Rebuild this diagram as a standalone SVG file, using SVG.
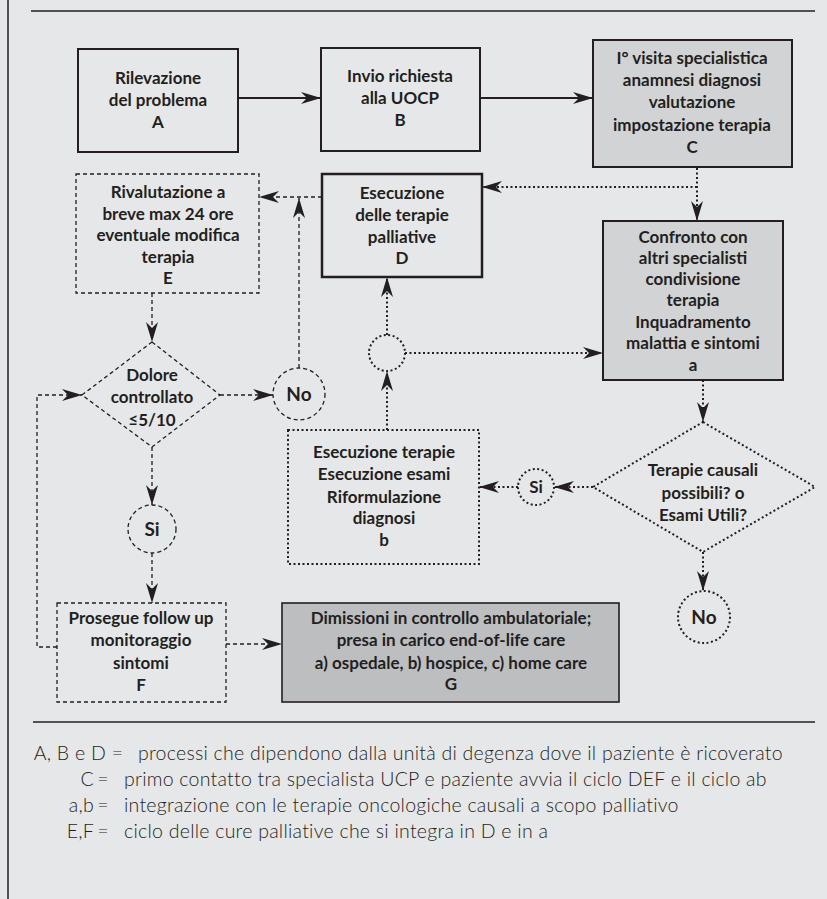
<svg xmlns="http://www.w3.org/2000/svg" width="827" height="899" viewBox="0 0 827 899">
<style>
.bg{fill:#e6e7e8}
.box{fill:none;stroke:#231f20;stroke-width:2}
.g1{fill:#d1d3d4}
.g2{fill:#bcbec0}
.dash{fill:none;stroke:#231f20;stroke-width:1.3;stroke-dasharray:4 3}
.dot{fill:none;stroke:#231f20;stroke-width:2;stroke-dasharray:2 2.5}
.solid{fill:none;stroke:#231f20;stroke-width:2}
.t{font-family:Lato,"Liberation Sans",sans-serif;font-weight:bold;font-size:17px;fill:#231f20;text-anchor:middle}
.lg{font-family:Lato,"Liberation Sans",sans-serif;font-weight:300;font-size:19.5px;letter-spacing:0.25px;fill:#231f20}
.rule{stroke:#231f20;stroke-width:1.5}
</style>
<defs>
<marker id="ah" markerUnits="userSpaceOnUse" markerWidth="21" markerHeight="13" refX="20" refY="6" orient="auto">
<path d="M0,0 L20,6 L0,12 L6,6 z" fill="#231f20"/>
</marker>
</defs>
<rect class="bg" x="0" y="0" width="827" height="899"/>
<line class="rule" x1="8" y1="0" x2="8" y2="899"/>
<line class="rule" x1="31" y1="11" x2="815" y2="11"/>
<line class="rule" x1="33" y1="722" x2="815" y2="722"/>

<g id="connectors">
<line class="solid" x1="238" y1="98" x2="321" y2="98" marker-end="url(#ah)"/>
<line class="solid" x1="480" y1="98" x2="593" y2="98" marker-end="url(#ah)"/>
<line class="dot" x1="697" y1="168" x2="697" y2="221" marker-end="url(#ah)"/>
<line class="dot" x1="697" y1="187" x2="482" y2="187" marker-end="url(#ah)"/>
<line class="dash" x1="322" y1="197" x2="259" y2="197" marker-end="url(#ah)"/>
<line class="dash" x1="299" y1="368" x2="299" y2="198" marker-end="url(#ah)"/>
<line class="dash" x1="152" y1="293" x2="152" y2="342" marker-end="url(#ah)"/>
<line class="dash" x1="220" y1="395" x2="273" y2="395" marker-end="url(#ah)"/>
<line class="dash" x1="152" y1="447" x2="152" y2="505" marker-end="url(#ah)"/>
<line class="dash" x1="152" y1="553" x2="152" y2="603" marker-end="url(#ah)"/>
<path class="dash" d="M57,647 L37,647 L37,395 L82,395" marker-end="url(#ah)"/>
<line class="dash" x1="226" y1="644" x2="282" y2="644" marker-end="url(#ah)"/>
<line class="dot" x1="387" y1="335" x2="387" y2="277" marker-end="url(#ah)"/>
<line class="dot" x1="405" y1="353" x2="603" y2="353" marker-end="url(#ah)"/>
<line class="dot" x1="387" y1="430" x2="387" y2="371" marker-end="url(#ah)"/>
<line class="dot" x1="703" y1="380" x2="703" y2="422" marker-end="url(#ah)"/>
<line class="dot" x1="593" y1="487" x2="554" y2="487" marker-end="url(#ah)"/>
<line class="dot" x1="518" y1="487" x2="479" y2="487" marker-end="url(#ah)"/>
<line class="dot" x1="703" y1="552" x2="703" y2="591" marker-end="url(#ah)"/>
</g>

<g id="A">
<rect class="box" x="78" y="49" width="160" height="103"/>
<text class="t" x="158" y="84">Rilevazione</text>
<text class="t" x="158" y="106">del problema</text>
<text class="t" x="158" y="128">A</text>
</g>
<g id="B">
<rect class="box" x="321" y="48" width="159" height="103"/>
<text class="t" x="400" y="82">Invio richiesta</text>
<text class="t" x="400" y="104">alla UOCP</text>
<text class="t" x="400" y="126">B</text>
</g>
<g id="C">
<rect class="box g1" x="593" y="40" width="199" height="127"/>
<text class="t" x="692" y="64">I° visita specialistica</text>
<text class="t" x="692" y="86">anamnesi diagnosi</text>
<text class="t" x="692" y="108">valutazione</text>
<text class="t" x="692" y="131">impostazione terapia</text>
<text class="t" x="692" y="153">C</text>
</g>
<g id="E">
<rect class="dash" x="76" y="174" width="183" height="119"/>
<text class="t" x="168" y="198">Rivalutazione a</text>
<text class="t" x="168" y="220">breve max 24 ore</text>
<text class="t" x="168" y="241">eventuale modifica</text>
<text class="t" x="168" y="263">terapia</text>
<text class="t" x="168" y="284">E</text>
</g>
<g id="D">
<rect class="box" x="322" y="174" width="160" height="103" style="stroke-width:2.5"/>
<text class="t" x="402" y="199">Esecuzione</text>
<text class="t" x="402" y="221">delle terapie</text>
<text class="t" x="402" y="243">palliative</text>
<text class="t" x="402" y="264">D</text>
</g>
<g id="a">
<rect class="box g1" x="603" y="221" width="180" height="159"/>
<text class="t" x="693" y="243">Confronto con</text>
<text class="t" x="693" y="264">altri specialisti</text>
<text class="t" x="693" y="285">condivisione</text>
<text class="t" x="693" y="306">terapia</text>
<text class="t" x="693" y="328">Inquadramento</text>
<text class="t" x="693" y="349">malattia e sintomi</text>
<text class="t" x="693" y="371">a</text>
</g>
<g id="junction">
<circle class="dot" cx="387" cy="353" r="18"/>
</g>
<g id="dolore">
<polygon class="dash" points="152,342 220,395 152,447 82,395"/>
<text class="t" x="152" y="381">Dolore</text>
<text class="t" x="152" y="403">controllato</text>
<text class="t" x="152" y="426">≤5/10</text>
</g>
<g id="no1">
<circle class="dash" cx="299" cy="394" r="26"/>
<text class="t" x="299" y="401" style="font-size:19px">No</text>
</g>
<g id="si1">
<circle class="dash" cx="152" cy="529" r="24"/>
<text class="t" x="152" y="536" style="font-size:19px">Si</text>
</g>
<g id="b">
<rect class="dot" x="288" y="430" width="191" height="134"/>
<text class="t" x="384" y="458">Esecuzione terapie</text>
<text class="t" x="384" y="480">Esecuzione esami</text>
<text class="t" x="384" y="503">Riformulazione</text>
<text class="t" x="384" y="524">diagnosi</text>
<text class="t" x="384" y="546">b</text>
</g>
<g id="terapie">
<polygon class="dot" points="703,422 815,487 703,552 593,487"/>
<text class="t" x="703" y="476">Terapie causali</text>
<text class="t" x="703" y="499">possibili? o</text>
<text class="t" x="703" y="521">Esami Utili?</text>
</g>
<g id="si2">
<circle class="dot" cx="536" cy="487" r="18"/>
<text class="t" x="536" y="493">Si</text>
</g>
<g id="no2">
<circle class="dot" cx="704" cy="617" r="26"/>
<text class="t" x="704" y="624" style="font-size:19px">No</text>
</g>
<g id="F">
<rect class="dash" x="57" y="603" width="169" height="99"/>
<text class="t" x="141" y="624">Prosegue follow up</text>
<text class="t" x="141" y="646">monitoraggio</text>
<text class="t" x="141" y="669">sintomi</text>
<text class="t" x="141" y="691">F</text>
</g>
<g id="G">
<rect class="box g2" x="282" y="603" width="337" height="99" style="stroke-width:1.6"/>
<text class="t" x="451" y="624">Dimissioni in controllo ambulatoriale;</text>
<text class="t" x="451" y="646">presa in carico end-of-life care</text>
<text class="t" x="451" y="669">a) ospedale, b) hospice, c) home care</text>
<text class="t" x="451" y="690">G</text>
</g>
<g id="legend">
<text class="lg" x="106" y="760" text-anchor="end">A, B e D</text>
<text class="lg" x="117.5" y="760" text-anchor="middle">=</text>
<text class="lg" x="138" y="760">processi che dipendono dalla unità di degenza dove il paziente è ricoverato</text>
<text class="lg" x="94" y="786" text-anchor="end">C</text>
<text class="lg" x="103" y="786" text-anchor="middle">=</text>
<text class="lg" x="124" y="786">primo contatto tra specialista UCP e paziente avvia il ciclo DEF e il ciclo ab</text>
<text class="lg" x="94" y="812" text-anchor="end">a,b</text>
<text class="lg" x="103" y="812" text-anchor="middle">=</text>
<text class="lg" x="124" y="812">integrazione con le terapie oncologiche causali a scopo palliativo</text>
<text class="lg" x="94" y="838" text-anchor="end">E,F</text>
<text class="lg" x="103" y="838" text-anchor="middle">=</text>
<text class="lg" x="124" y="838">ciclo delle cure palliative che si integra in D e in a</text>
</g>
</svg>
